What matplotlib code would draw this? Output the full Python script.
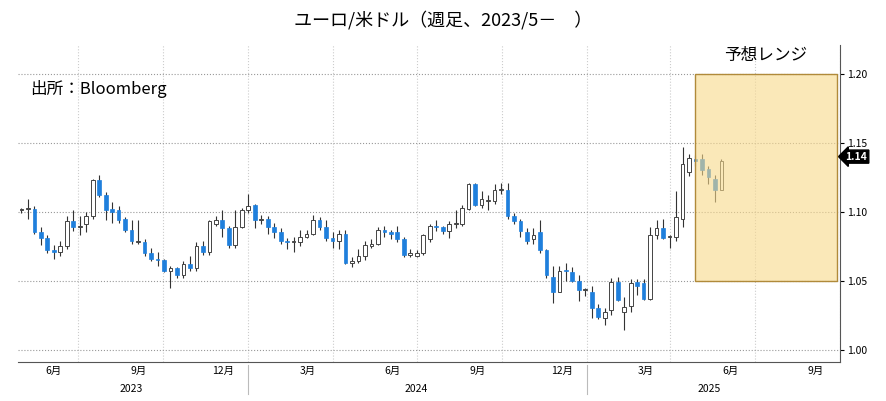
import matplotlib
matplotlib.use('Agg')
import matplotlib.pyplot as plt
import matplotlib.dates as mdates
import numpy as np
import pandas as pd

plt.rcParams['font.family'] = ['Noto Sans CJK JP', 'DejaVu Sans']

# weekly EUR/USD candles from 2023/5
start_date = '2023-05-01'
opens = [1.101, 1.102, 1.102, 1.085, 1.081, 1.072, 1.071, 1.075, 1.093, 1.089,
         1.091, 1.097, 1.123, 1.112, 1.102, 1.101, 1.095, 1.087, 1.078, 1.078,
         1.070, 1.066, 1.065, 1.057, 1.059, 1.054, 1.062, 1.059, 1.075, 1.071,
         1.091, 1.094, 1.088, 1.076, 1.089, 1.101, 1.105, 1.094, 1.095, 1.089,
         1.085, 1.079, 1.078, 1.078, 1.082, 1.084, 1.094, 1.089, 1.081, 1.079,
         1.084, 1.063, 1.064, 1.068, 1.075, 1.077, 1.087, 1.085, 1.085, 1.080,
         1.069, 1.068, 1.070, 1.080, 1.090, 1.089, 1.086, 1.091, 1.091, 1.102,
         1.120, 1.105, 1.108, 1.108, 1.116, 1.116, 1.097, 1.093, 1.085, 1.080,
         1.085, 1.072, 1.053, 1.042, 1.058, 1.056, 1.050, 1.043, 1.042, 1.030,
         1.023, 1.029, 1.049, 1.027, 1.032, 1.049, 1.048, 1.037, 1.083, 1.088,
         1.082, 1.082, 1.095, 1.129, 1.138, 1.138, 1.131, 1.124, 1.116]
closes = [1.102, 1.103, 1.085, 1.081, 1.072, 1.071, 1.075, 1.093, 1.089, 1.090,
          1.097, 1.123, 1.112, 1.101, 1.100, 1.094, 1.087, 1.079, 1.078, 1.070,
          1.066, 1.065, 1.057, 1.059, 1.054, 1.062, 1.059, 1.075, 1.071, 1.093,
          1.094, 1.088, 1.076, 1.089, 1.101, 1.104, 1.094, 1.095, 1.089, 1.085,
          1.079, 1.078, 1.078, 1.082, 1.084, 1.094, 1.089, 1.081, 1.079, 1.084,
          1.063, 1.064, 1.068, 1.076, 1.077, 1.087, 1.085, 1.084, 1.080, 1.069,
          1.069, 1.070, 1.083, 1.090, 1.089, 1.086, 1.091, 1.091, 1.103, 1.120,
          1.105, 1.109, 1.108, 1.116, 1.116, 1.097, 1.093, 1.086, 1.079, 1.083,
          1.072, 1.054, 1.042, 1.057, 1.057, 1.050, 1.043, 1.043, 1.030, 1.024,
          1.027, 1.049, 1.036, 1.031, 1.048, 1.046, 1.037, 1.083, 1.088, 1.081,
          1.082, 1.096, 1.135, 1.139, 1.137, 1.130, 1.125, 1.116, 1.137]
highs = [1.103, 1.109, 1.104, 1.089, 1.083, 1.076, 1.079, 1.097, 1.101, 1.097,
         1.100, 1.124, 1.127, 1.114, 1.107, 1.104, 1.096, 1.094, 1.094, 1.080,
         1.074, 1.071, 1.066, 1.061, 1.060, 1.064, 1.068, 1.078, 1.079, 1.094,
         1.097, 1.101, 1.090, 1.101, 1.103, 1.113, 1.106, 1.098, 1.097, 1.092,
         1.088, 1.081, 1.082, 1.087, 1.087, 1.098, 1.096, 1.094, 1.085, 1.087,
         1.087, 1.067, 1.073, 1.079, 1.080, 1.089, 1.090, 1.087, 1.090, 1.082,
         1.073, 1.072, 1.084, 1.091, 1.094, 1.090, 1.093, 1.101, 1.105, 1.121,
         1.121, 1.115, 1.112, 1.120, 1.121, 1.121, 1.099, 1.095, 1.088, 1.088,
         1.094, 1.073, 1.061, 1.061, 1.063, 1.060, 1.054, 1.045, 1.046, 1.033,
         1.030, 1.052, 1.053, 1.038, 1.051, 1.051, 1.051, 1.089, 1.094, 1.095,
         1.083, 1.115, 1.147, 1.142, 1.141, 1.142, 1.133, 1.127, 1.138]
lows = [1.099, 1.095, 1.084, 1.076, 1.070, 1.066, 1.068, 1.073, 1.086, 1.083,
        1.085, 1.095, 1.111, 1.094, 1.092, 1.092, 1.085, 1.077, 1.077, 1.068,
        1.064, 1.061, 1.056, 1.045, 1.052, 1.052, 1.057, 1.057, 1.069, 1.069,
        1.090, 1.082, 1.074, 1.074, 1.088, 1.099, 1.088, 1.091, 1.084, 1.081,
        1.077, 1.073, 1.071, 1.075, 1.081, 1.083, 1.087, 1.079, 1.074, 1.073,
        1.062, 1.060, 1.063, 1.065, 1.074, 1.076, 1.082, 1.080, 1.078, 1.067,
        1.067, 1.067, 1.069, 1.078, 1.086, 1.084, 1.081, 1.088, 1.090, 1.101,
        1.104, 1.103, 1.101, 1.106, 1.113, 1.095, 1.091, 1.082, 1.077, 1.077,
        1.070, 1.052, 1.034, 1.042, 1.050, 1.049, 1.035, 1.039, 1.023, 1.022,
        1.018, 1.025, 1.035, 1.014, 1.027, 1.040, 1.036, 1.036, 1.080, 1.080,
        1.074, 1.079, 1.089, 1.126, 1.133, 1.127, 1.120, 1.107, 1.116]

range_start, range_end = '2025-04-27', '2025-09-28'
range_low, range_high = 1.05, 1.20
last_price = 1.14

month_labels = ['6月', '9月', '12月', '3月', '6月', '9月', '12月', '3月', '6月', '9月']
month_label_dates = ['2023-06-05', '2023-09-05', '2023-12-05', '2024-03-05', '2024-06-05',
                     '2024-09-05', '2024-12-05', '2025-03-05', '2025-06-05', '2025-09-05']
grid_dates = ['2023-07-01', '2023-10-01', '2024-01-01', '2024-04-01', '2024-07-01',
              '2024-10-01', '2025-01-01', '2025-04-01', '2025-07-01', '2025-10-01']
years = ['2023', '2024', '2025']
year_dates = ['2023-08-28', '2024-06-30', '2025-05-13']

dates = mdates.date2num(pd.date_range(start_date, periods=len(closes), freq='7D'))

fig = plt.figure(figsize=(8.86, 4.01), dpi=100)
ax = fig.add_axes([0.02, 0.097, 0.928, 0.791])

blue = '#1f7fdc'
for d, o, h, l, c in zip(dates, opens, highs, lows, closes):
    ax.vlines(d, l, h, color='#333333', lw=0.8, zorder=2)
    bottom, height = min(o, c), max(abs(c - o), 0.0008)
    if c >= o:
        ax.bar(d, height, 4, bottom=bottom, facecolor='white', edgecolor='#444444', lw=0.7, zorder=3)
    else:
        ax.bar(d, height, 4, bottom=bottom, facecolor=blue, edgecolor=blue, lw=0.5, zorder=3)

rs, re_ = mdates.datestr2num(range_start), mdates.datestr2num(range_end)
ax.add_patch(plt.Rectangle((rs, range_low), re_ - rs, range_high - range_low,
                           facecolor='#f8d98a', alpha=0.6, edgecolor='none', zorder=4))
ax.add_patch(plt.Rectangle((rs, range_low), re_ - rs, range_high - range_low,
                           facecolor='none', edgecolor='#b08a3a', lw=1.0, zorder=5))
ax.text((rs + re_) / 2, 1.213, '予想レンジ', ha='center', va='center', fontsize=12, zorder=6)

ax.set_xlim(dates[0] - 4, mdates.datestr2num('2025-10-01'))
ax.set_ylim(0.991, 1.221)
ax.yaxis.tick_right()
ax.set_yticks([1.00, 1.05, 1.10, 1.15, 1.20])
ax.set_yticklabels([f'{v:.2f}' for v in [1.00, 1.05, 1.10, 1.15, 1.20]], fontsize=7.5)
ax.tick_params(axis='y', length=3, pad=2)
ax.grid(axis='y', color='#999999', ls=':', lw=0.8)
for g in grid_dates:
    ax.axvline(mdates.datestr2num(g), color='#cccccc', ls=':', lw=0.8, zorder=0)

ax.set_xticks(mdates.datestr2num(month_label_dates))
ax.set_xticklabels(month_labels, fontsize=7.5)
ax.tick_params(axis='x', length=0, pad=3)
for y, d in zip(years, year_dates):
    ax.text(mdates.datestr2num(d), -0.085, y, transform=ax.get_xaxis_transform(),
            ha='center', va='center', fontsize=7.5)
for d in ['2024-01-01', '2025-01-01']:
    ax.plot([mdates.datestr2num(d)] * 2, [-0.01, -0.1], transform=ax.get_xaxis_transform(),
            color='#bbbbbb', lw=0.8, clip_on=False)

for s in ['top', 'left']:
    ax.spines[s].set_visible(False)
ax.spines['bottom'].set_color('#555555')
ax.spines['right'].set_color('#555555')

ax.annotate(f'{last_price:.2f}', xy=(1.0, last_price), xycoords=('axes fraction', 'data'),
            xytext=(4, 0), textcoords='offset points', ha='left', va='center', fontsize=7.5,
            color='white', fontweight='bold',
            bbox=dict(boxstyle='larrow,pad=0.15', fc='black', ec='black'))

ax.text(0.015, 0.86, '出所：Bloomberg', transform=ax.transAxes, fontsize=12, va='center')
fig.text(0.5, 0.95, 'ユーロ/米ドル（週足、2023/5－　）', ha='center', va='center', fontsize=13)

fig.savefig('out.png', dpi=100)
